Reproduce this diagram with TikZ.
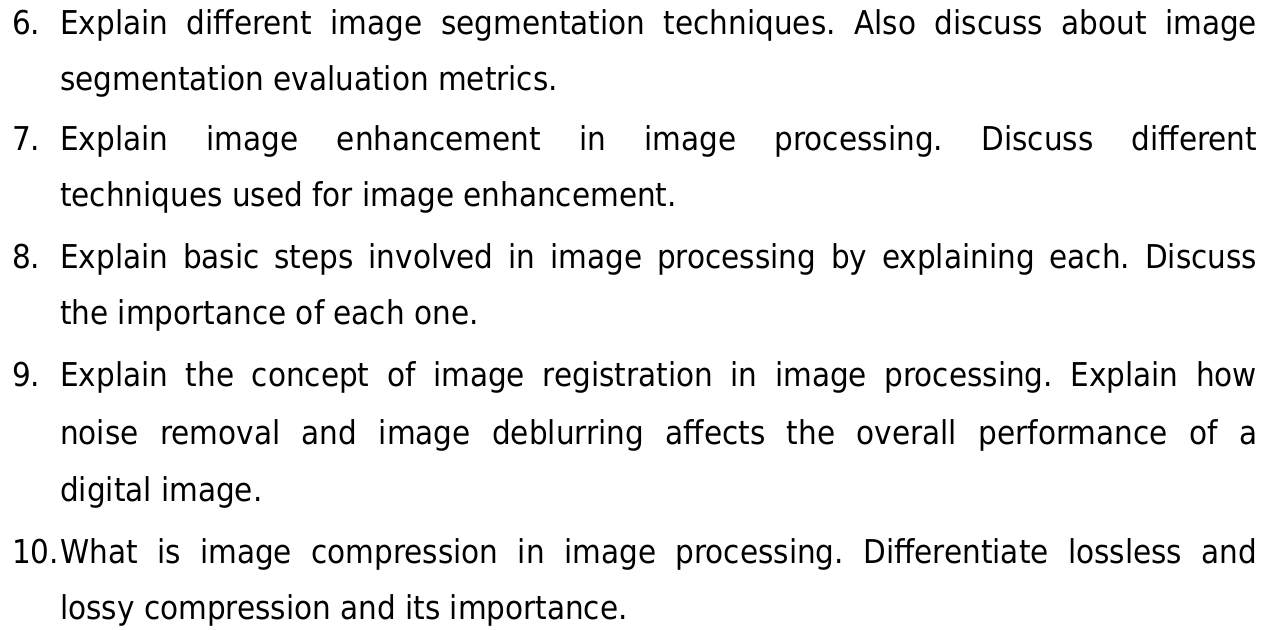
\documentclass[tikz,border=0pt]{standalone}
\usepackage{fontspec}
\setmainfont{DejaVu Sans Condensed}
\begin{document}
\frenchspacing
\begin{tikzpicture}[x=1pt,y=-1pt,
  txt/.style={anchor=base west, inner sep=0pt, font=\fontsize{32.8}{40}\selectfont},
  num/.style={txt}]
\useasboundingbox (0,0) rectangle (1276,629);
% question numbers
\node[num] (n6)  at (12,34)  {6.};
\node[num] (n7)  at (12,150) {7.};
\node[num] (n8)  at (12,268) {8.};
\node[num] (n9)  at (12,386) {9.};
\node[num] (n10) at (12,563) {10.};
% justified lines span the full measure, closing lines keep natural spacing
\def\jw{1197pt}
\node[txt] (q6a) at (60,34)  {\makebox[\jw][s]{Explain different image segmentation techniques. Also discuss about image}};
\node[txt] (q6b) at (60,90)  {segmentation evaluation metrics.};
\node[txt] (q7a) at (60,150) {\makebox[\jw][s]{Explain image enhancement in image processing. Discuss different}};
\node[txt] (q7b) at (60,206) {techniques used for image enhancement.};
\node[txt] (q8a) at (60,268) {\makebox[\jw][s]{Explain basic steps involved in image processing by explaining each. Discuss}};
\node[txt] (q8b) at (60,324) {the importance of each one.};
\node[txt] (q9a) at (60,386) {\makebox[\jw][s]{Explain the concept of image registration in image processing. Explain how}};
\node[txt] (q9b) at (60,444) {\makebox[\jw][s]{noise removal and image deblurring affects the overall performance of a}};
\node[txt] (q9c) at (60,501) {digital image.};
\node[txt] (q10a) at (60,563) {\makebox[\jw][s]{What is image compression in image processing. Differentiate lossless and}};
\node[txt] (q10b) at (60,619) {lossy compression and its importance.};
\end{tikzpicture}
\end{document}
